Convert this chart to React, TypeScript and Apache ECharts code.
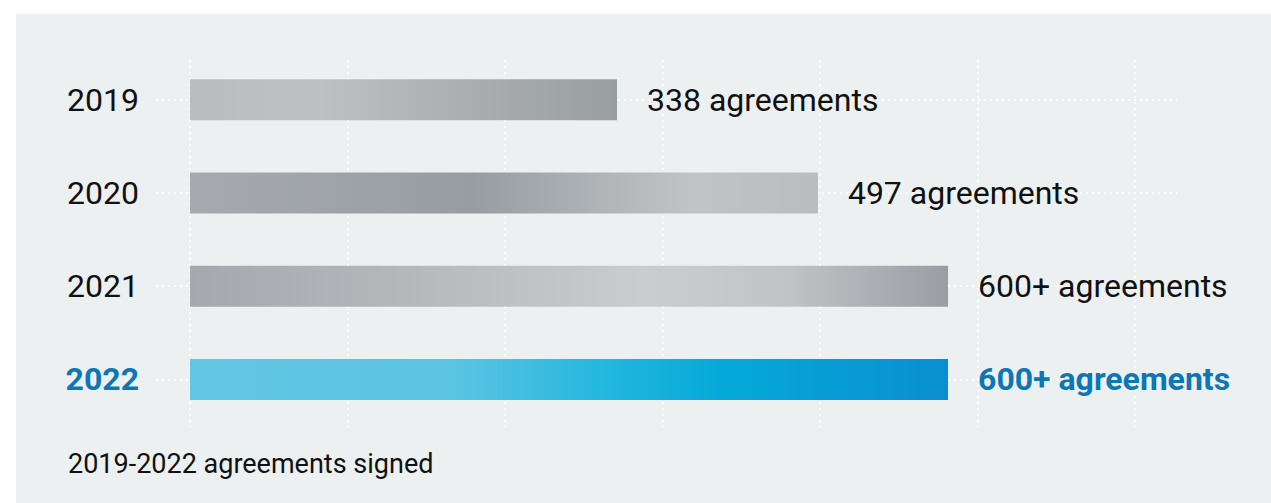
import React, { useEffect, useRef } from "react";
import * as echarts from "echarts";

const categories = ["2019", "2020", "2021", "2022"];
const values = [338, 497, 600, 600];
const valueLabels = ["338 agreements", "497 agreements", "600+ agreements", "600+ agreements"];
const caption = "2019-2022 agreements signed";

const grad = (stops: [number, string][]) =>
  new echarts.graphic.LinearGradient(
    0,
    0,
    1,
    0,
    stops.map(([offset, color]) => ({ offset, color }))
  );

const barFills = [
  grad([
    [0, "#b9bdc0"],
    [0.3, "#bdc1c4"],
    [0.65, "#aaaeb1"],
    [1, "#999ea1"],
  ]),
  grad([
    [0, "#a6aaae"],
    [0.45, "#989da1"],
    [0.8, "#c0c4c7"],
    [1, "#b9bdc0"],
  ]),
  grad([
    [0, "#a5a9ad"],
    [0.3, "#b5b9bc"],
    [0.6, "#c9cdd0"],
    [0.78, "#c1c5c8"],
    [1, "#9a9ea2"],
  ]),
  grad([
    [0, "#62c7e5"],
    [0.35, "#5bc4e3"],
    [0.55, "#22b7de"],
    [0.7, "#05a9d9"],
    [1, "#0a8fd1"],
  ]),
];

const BLUE = "#0b77b7";
const DOTS = { color: "#ffffff", width: 2, type: [2, 4] as any, opacity: 0.9 };

export default function App() {
  const ref = useRef<HTMLDivElement>(null);
  useEffect(() => {
    if (!ref.current) return;
    const chart = echarts.init(ref.current, null, { renderer: "svg" });
    const font = "Roboto";
    chart.setOption({
      animation: false,
      backgroundColor: "#ffffff",
      textStyle: { fontFamily: font },
      graphic: [
        {
          type: "rect",
          z: -10,
          shape: { x: 16, y: 14, width: 1271, height: 503 },
          style: { fill: "#ecf0f1" },
        },
      ],
      title: {
        text: caption,
        left: 63,
        top: 445,
        textStyle: { fontFamily: font, fontSize: 27, fontWeight: "normal", color: "#111111" },
      },
      grid: [
        { left: 190, right: 136, top: 53, bottom: 77 },
        { left: 190, right: 136, top: 60, bottom: 76 },
        { left: 156, right: 94, top: 99.5, bottom: 123.5 },
      ],
      xAxis: [
        { type: "value", gridIndex: 0, min: 0, max: 748, show: false },
        {
          type: "value",
          gridIndex: 1,
          min: 0,
          max: 750,
          interval: 125,
          axisLine: { show: false },
          axisTick: { show: false },
          axisLabel: { show: false },
          splitLine: { show: true, lineStyle: DOTS },
        },
        { type: "value", gridIndex: 2, min: 0, max: 1, show: false },
      ],
      yAxis: [
        {
          type: "category",
          gridIndex: 0,
          data: categories,
          inverse: true,
          axisLine: { show: false },
          axisTick: { show: false },
          splitLine: { show: false },
          axisLabel: {
            margin: 51,
            fontFamily: font,
            fontSize: 32,
            color: "#111111",
            formatter: (v: string, i: number) => (i === categories.length - 1 ? `{hl|${v}}` : v),
            rich: {
              hl: { fontFamily: font, fontSize: 32, fontWeight: "bold", color: BLUE },
            },
          },
        },
        { type: "value", gridIndex: 1, show: false },
        {
          type: "category",
          gridIndex: 2,
          data: categories,
          inverse: true,
          boundaryGap: false,
          axisLine: { show: false },
          axisTick: { show: false },
          axisLabel: { show: false },
          splitLine: { show: true, lineStyle: DOTS },
        },
      ],
      series: [
        {
          type: "bar",
          xAxisIndex: 0,
          yAxisIndex: 0,
          barWidth: 41,
          z: 5,
          data: values.map((v, i) => {
            const hl = i === values.length - 1;
            return {
              value: v,
              itemStyle: { color: barFills[i] },
              label: {
                show: true,
                position: "right",
                distance: 30,
                formatter: valueLabels[i],
                fontFamily: font,
                fontSize: 32,
                fontWeight: hl ? "bold" : "normal",
                color: hl ? BLUE : "#111111",
              },
            };
          }),
        },
      ],
    });
    return () => chart.dispose();
  }, []);
  return (
    <div
      ref={ref}
      style={{ position: "absolute", left: 0, top: 0, width: 1271, height: 503 }}
    />
  );
}
